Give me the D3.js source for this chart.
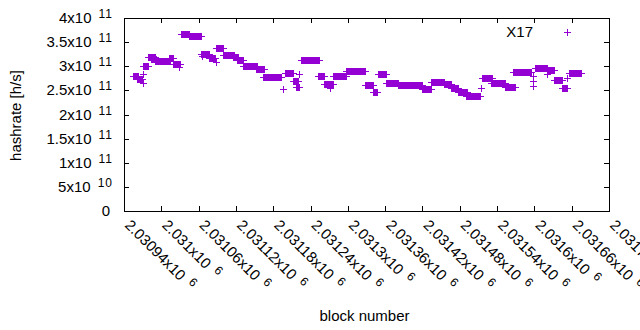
<html>
  <head>
    <script src="https://d3js.org/d3.v7.min.js"></script>
    <style>
      body { margin: 0; background: white; }
      text { font-family: "Liberation Sans", Arial, sans-serif; font-size: 15px; fill: black; }
    </style>
  </head>
  <body>
    <script type="text/javascript">
      // runs of consecutive blocks with the same hashrate estimate
      var runStart = [2030955, 2030961, 2030971, 2030971, 2030972, 2030980, 2030985, 2030991, 2031013, 2031019,
                      2031030, 2031032, 2031045, 2031065, 2031066, 2031078, 2031089, 2031089, 2031100, 2031116,
                      2031122, 2031132, 2031153, 2031164, 2031196, 2031199, 2031212, 2031218, 2031223, 2031225,
                      2031252, 2031263, 2031272, 2031277, 2031298, 2031328, 2031341, 2031349, 2031362, 2031381,
                      2031420, 2031435, 2031456, 2031467, 2031478, 2031491, 2031515, 2031516, 2031531, 2031553,
                      2031566, 2031598, 2031598, 2031598, 2031601, 2031621, 2031621, 2031633, 2031645, 2031654,
                      2031657];
      var runEnd   = [2030964, 2030969, 2030971, 2030971, 2030980, 2030991, 2030993, 2031014, 2031020, 2031031,
                      2031030, 2031046, 2031065, 2031078, 2031066, 2031087, 2031089, 2031100, 2031117, 2031124,
                      2031132, 2031155, 2031166, 2031194, 2031196, 2031212, 2031220, 2031223, 2031223, 2031255,
                      2031263, 2031277, 2031272, 2031298, 2031328, 2031341, 2031348, 2031362, 2031381, 2031420,
                      2031435, 2031456, 2031467, 2031478, 2031493, 2031514, 2031515, 2031532, 2031553, 2031569,
                      2031595, 2031598, 2031598, 2031598, 2031621, 2031633, 2031621, 2031645, 2031654, 2031654,
                      2031676];
      var runValue = [2.78e11, 2.72e11, 2.83e11, 2.65e11, 2.99e11, 3.18e11, 3.13e11, 3.09e11, 3.16e11, 3.04e11,
                      2.98e11, 3.66e11, 3.61e11, 3.25e11, 3.20e11, 3.16e11, 3.08e11, 3.36e11, 3.23e11, 3.18e11,
                      3.11e11, 3.00e11, 2.93e11, 2.77e11, 2.51e11, 2.86e11, 2.68e11, 2.56e11, 2.82e11, 3.11e11,
                      2.78e11, 2.62e11, 2.54e11, 2.78e11, 2.90e11, 2.61e11, 2.46e11, 2.83e11, 2.65e11, 2.60e11,
                      2.52e11, 2.67e11, 2.63e11, 2.53e11, 2.46e11, 2.37e11, 2.54e11, 2.74e11, 2.64e11, 2.56e11,
                      2.87e11, 2.78e11, 2.68e11, 2.58e11, 2.96e11, 2.91e11, 2.83e11, 2.70e11, 2.54e11, 2.75e11,
                      2.85e11];

      var xTicks = [2030940, 2031000, 2031060, 2031120, 2031180, 2031240, 2031300, 2031360,
                    2031420, 2031480, 2031540, 2031600, 2031660, 2031720];
      var yTicks = [0, 0.5e11, 1e11, 1.5e11, 2e11, 2.5e11, 3e11, 3.5e11, 4e11];
      var seriesName = "X17";

      var width = 640, height = 330;
      var plotLeft = 124, plotRight = 609, plotTop = 18, plotBottom = 211;
      var tickLen = 5, arm = 3.5;
      var color = "#9400d3";

      var svg = d3.select("body").append("svg")
        .attr("width", width)
        .attr("height", height);

      var x = d3.scaleLinear().domain([2030940, 2031720]).range([plotLeft, plotRight]);
      var y = d3.scaleLinear().domain([0, 4e11]).range([plotBottom, plotTop]);

      // split a number into mantissa and power of ten
      function sci(v) {
        var e = Math.floor(Math.log10(v));
        var m = +(v / Math.pow(10, e)).toPrecision(8);
        return [String(m) + "x10", String(e)];
      }

      // ticks, mirrored on all four sides
      var ticks = svg.append("g")
        .attr("stroke", "black")
        .attr("shape-rendering", "crispEdges");
      yTicks.forEach(function (t) {
        var ty = Math.round(y(t)) + 0.5;
        ticks.append("line").attr("x1", plotLeft).attr("x2", plotLeft + tickLen).attr("y1", ty).attr("y2", ty);
        ticks.append("line").attr("x1", plotRight).attr("x2", plotRight - tickLen).attr("y1", ty).attr("y2", ty);
      });
      xTicks.forEach(function (t) {
        var tx = Math.round(x(t)) + 0.5;
        ticks.append("line").attr("y1", plotBottom).attr("y2", plotBottom - tickLen).attr("x1", tx).attr("x2", tx);
        ticks.append("line").attr("y1", plotTop).attr("y2", plotTop + tickLen).attr("x1", tx).attr("x2", tx);
      });

      // y tick labels
      yTicks.forEach(function (t) {
        var label = svg.append("text")
          .attr("text-anchor", "end")
          .attr("y", y(t) + 5);
        if (t === 0) {
          label.attr("x", 110).text("0");
        } else {
          var parts = sci(t);
          label.attr("x", 113);
          label.append("tspan").text(parts[0]);
          label.append("tspan").attr("dx", 7).attr("dy", -5)
            .attr("font-size", "12px").attr("letter-spacing", "1px").text(parts[1]);
        }
      });

      // x tick labels, rotated
      xTicks.forEach(function (t) {
        var parts = sci(t);
        var label = svg.append("text")
          .attr("transform", "translate(" + x(t) + "," + 226 + ") rotate(45)");
        label.append("tspan").text(parts[0]);
        label.append("tspan").attr("dx", 7).attr("dy", -5)
          .attr("font-size", "12px").text(parts[1]);
      });

      // axis titles
      svg.append("text")
        .attr("text-anchor", "middle")
        .attr("x", (plotLeft + plotRight) / 2 - 2)
        .attr("y", 321)
        .text("block number");
      svg.append("text")
        .attr("text-anchor", "middle")
        .attr("transform", "translate(21," + ((plotTop + plotBottom) / 2 + 1) + ") rotate(-90)")
        .text("hashrate [h/s]");

      // data: each run is a row of "+" markers, one per block
      var marks = svg.append("g")
        .attr("shape-rendering", "crispEdges");
      for (var i = 0; i < runStart.length; i++) {
        var x0 = x(runStart[i]), x1 = x(runEnd[i]), yy = y(runValue[i]);
        marks.append("rect")
          .attr("fill", color)
          .attr("x", x0 - arm)
          .attr("y", yy - 0.5)
          .attr("width", x1 - x0 + 2 * arm)
          .attr("height", 1);
        marks.append("rect")
          .attr("fill", color)
          .attr("x", x0 - 0.5)
          .attr("y", yy - arm)
          .attr("width", x1 - x0 + 1)
          .attr("height", 2 * arm);
      }

      // legend
      svg.append("text")
        .attr("text-anchor", "end")
        .attr("x", 533)
        .attr("y", 37)
        .text(seriesName);
      var lx = 567, ly = 32;
      marks.append("rect").attr("fill", color)
        .attr("x", lx - arm).attr("y", ly - 0.5).attr("width", 2 * arm).attr("height", 1);
      marks.append("rect").attr("fill", color)
        .attr("x", lx - 0.5).attr("y", ly - arm).attr("width", 1).attr("height", 2 * arm);

      // border
      svg.append("rect")
        .attr("x", plotLeft + 0.5)
        .attr("y", plotTop + 0.5)
        .attr("width", plotRight - plotLeft)
        .attr("height", plotBottom - plotTop)
        .attr("fill", "none")
        .attr("stroke", "black")
        .attr("shape-rendering", "crispEdges");
    </script>
  </body>
</html>
